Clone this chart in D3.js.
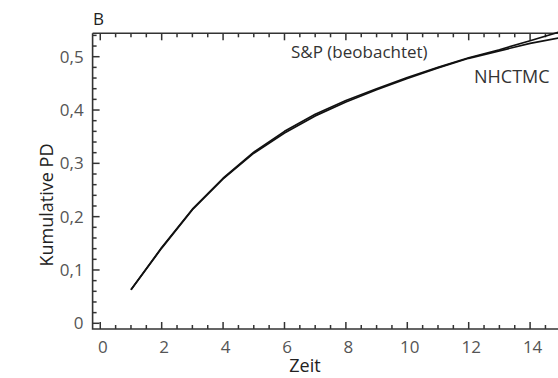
<!DOCTYPE html>
<html><head><meta charset="utf-8">
<script src="https://cdn.jsdelivr.net/npm/d3@7"></script>
<style>
html,body{margin:0;padding:0;background:#fff;}
svg{display:block;font-family:"Open Sans",sans-serif;}
</style></head>
<body>
<svg id="c" width="558" height="378"></svg>
<script>
const years = [1,2,3,4,5,6,7,8,9,10,11,12,13,14,15];
const spObserved = [0.063,0.142,0.214,0.272,0.321,0.360,0.392,0.418,0.440,0.461,0.480,0.498,0.513,0.530,0.547];
const nhctmc     = [0.063,0.141,0.213,0.271,0.319,0.357,0.389,0.415,0.438,0.459,0.479,0.497,0.511,0.525,0.536];
const xTicks = [0,2,4,6,8,10,12,14];
const yTicks = [0,0.1,0.2,0.3,0.4,0.5];
const seriesNames = ["S&P (beobachtet)","NHCTMC"];

const svg = d3.select("#c");
const x = d3.scaleLinear().domain([-0.25,15]).range([92.6,560.8]);
const y = d3.scaleLinear().domain([-0.0107,0.5439]).range([329,33.3]);
const axisColor = "#333";
const fmt = d => d===0 ? "0" : d3.format(".1f")(d).replace(".",",");

const xMinor = d3.range(0,15.01,0.5).filter(v=>v%2!==0);
const yMinor = d3.range(0,0.541,0.02).filter(v=>Math.abs(Math.round(v*10)-v*10)>1e-6);

// axis domain lines (frame)
const frame = svg.append("g").attr("stroke",axisColor).attr("stroke-width",1.6).attr("fill","none");
frame.append("path").attr("d",`M${x.range()[0]},${y.range()[1]}V${y.range()[0]}H${x.range()[1]}`);
frame.append("path").attr("d",`M${x.range()[0]},${y.range()[1]}H${x.range()[1]}`);

// tick marks via scales
const tk = svg.append("g").attr("stroke",axisColor).attr("stroke-width",1.5);
const xAll = xMinor.map(v=>({v,len:4})).concat(xTicks.map(v=>({v,len:7})));
const yAll = yMinor.map(v=>({v,len:4})).concat(yTicks.map(v=>({v,len:7})));
tk.selectAll("line.xb").data(xAll).join("line").attr("class","xb")
  .attr("x1",d=>x(d.v)).attr("x2",d=>x(d.v)).attr("y1",y.range()[0]).attr("y2",d=>y.range()[0]-d.len);
tk.selectAll("line.xt").data(xAll).join("line").attr("class","xt")
  .attr("x1",d=>x(d.v)).attr("x2",d=>x(d.v)).attr("y1",y.range()[1]).attr("y2",d=>y.range()[1]+d.len);
tk.selectAll("line.yl").data(yAll).join("line").attr("class","yl")
  .attr("y1",d=>y(d.v)).attr("y2",d=>y(d.v)).attr("x1",x.range()[0]).attr("x2",d=>x.range()[0]+d.len);

// tick labels via d3 axes (no tick lines)
const gb = svg.append("g").attr("transform",`translate(0,${y.range()[0]})`)
  .call(d3.axisBottom(x).tickValues(xTicks).tickSize(0).tickPadding(12).tickFormat(d=>d));
const gl = svg.append("g").attr("transform",`translate(${x.range()[0]},0)`)
  .call(d3.axisLeft(y).tickValues(yTicks).tickSize(0).tickPadding(9).tickFormat(fmt));
[gb,gl].forEach(g=>{
  g.select(".domain").remove();
  g.selectAll("text").attr("fill","#555").attr("font-size",17).attr("font-family","'Open Sans',sans-serif");
});
gb.selectAll("text").attr("dx",2);

// lines
const line = d3.line().x((d,i)=>x(years[i])).y(d=>y(d));
[spObserved, nhctmc].forEach(s=>{
  svg.append("path").datum(s).attr("d",line).attr("fill","none")
     .attr("stroke","#111").attr("stroke-width",1.7).attr("stroke-linejoin","round");
});

// labels
svg.append("text").attr("x",93).attr("y",25).attr("font-size",17).attr("fill","#222").text("B");
svg.append("text").attr("x",305).attr("y",372).attr("text-anchor","middle").attr("font-size",18).attr("fill","#222").text("Zeit");
svg.append("text").attr("transform","translate(53,205) rotate(-90)").attr("text-anchor","middle").attr("font-size",18).attr("fill","#222").text("Kumulative PD");
svg.append("text").attr("x",291).attr("y",58).attr("font-size",17).attr("fill","#333").text(seriesNames[0]);
svg.append("text").attr("x",474).attr("y",83).attr("font-size",18).attr("fill","#333").text(seriesNames[1]);
</script>
</body></html>
